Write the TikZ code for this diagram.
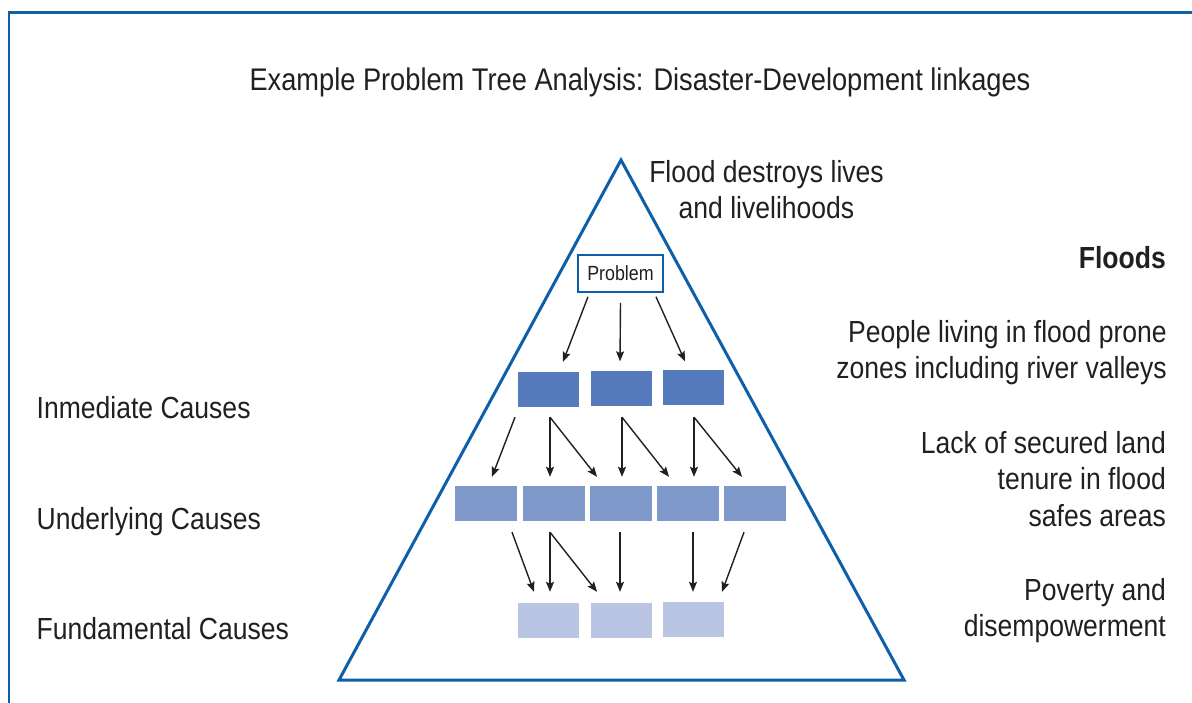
\documentclass[tikz,border=0pt]{standalone}
\usepackage{fontspec}
\setmainfont[FakeStretch=0.87]{Liberation Sans}
\usetikzlibrary{arrows.meta}
\definecolor{frameblue}{RGB}{14,95,170}
\definecolor{inkgrey}{RGB}{35,31,32}
\definecolor{immfill}{RGB}{85,123,189}
\definecolor{undfill}{RGB}{127,153,203}
\definecolor{fundfill}{RGB}{185,197,227}
\tikzset{
  lbl/.style={inner sep=0pt, text=inkgrey, font=\fontsize{30.5}{36.4}\selectfont},
  cell/.style={inner sep=0pt, minimum width=61pt, minimum height=35pt},
  immbox/.style={cell, fill=immfill},
  undbox/.style={cell, fill=undfill, minimum width=62pt},
  fundbox/.style={cell, fill=fundfill},
  arr/.style={draw=inkgrey, line width=1.4pt, -{Stealth[length=10pt,width=8pt,inset=1.8pt]}},
}
\begin{document}
\begin{tikzpicture}[x=1pt,y=-1pt]
\useasboundingbox (0,0) rectangle (1192,702);
% frame
\draw[frameblue, line width=2.6pt] (9,703) -- (9,12.5) -- (1193,12.5);
% triangle
\coordinate (apex) at (621,160);
\coordinate (bl) at (339,680);
\coordinate (br) at (904,680);
\draw[frameblue, line width=3pt, line join=miter] (apex) -- (br) -- (bl) -- cycle;
% texts
\node[lbl, anchor=base, font=\fontsize{31.3}{36.4}\selectfont] (title) at (640,90) {Example Problem Tree Analysis: Disaster-Development linkages};
\node[lbl, anchor=north, align=center] (effect) at (766.5,160) {Flood destroys lives\\and livelihoods};
\node[lbl, anchor=base east, font=\fontsize{30.5}{36.4}\selectfont\bfseries] (floods) at (1166,268) {Floods};
\node[lbl, anchor=north east, align=right] (people) at (1167,320) {People living in flood prone\\zones including river valleys};
\node[lbl, anchor=north east, align=right] (lack) at (1166,431) {Lack of secured land\\tenure in flood\\safes areas};
\node[lbl, anchor=north east, align=right] (poverty) at (1166,578) {Poverty and\\disempowerment};
\node[lbl, anchor=base west] (imm) at (36.5,418) {Inmediate Causes};
\node[lbl, anchor=base west] (und) at (36.5,529) {Underlying Causes};
\node[lbl, anchor=base west] (fund) at (36.5,639) {Fundamental Causes};
% problem box
\node[draw=frameblue, line width=1.5pt, fill=white, inner sep=0pt, minimum width=85pt, minimum height=37pt, text=inkgrey, font=\fontsize{20.5}{24}\selectfont] (prob) at (620.5,273.5) {Problem};
% boxes
\node[immbox] (i1) at (548,389) {};
\node[immbox] (i2) at (621.5,388.5) {};
\node[immbox] (i3) at (693,387.5) {};
\node[undbox] (u1) at (486,503.5) {};
\node[undbox] (u2) at (553.5,503.5) {};
\node[undbox] (u3) at (621,503.5) {};
\node[undbox] (u4) at (687.5,503.5) {};
\node[undbox] (u5) at (754.5,503.5) {};
\node[fundbox] (f1) at (548.5,620) {};
\node[fundbox] (f2) at (621.5,620) {};
\node[fundbox] (f3) at (693.5,619.5) {};
% arrows problem -> immediate
\draw[arr] ([xshift=-32.5pt,yshift=-4pt]prob.south) -- ([xshift=15pt,yshift=9.5pt]i1.north);
\draw[arr] ([xshift=0pt,yshift=-10pt]prob.south) -- ([xshift=-1.5pt,yshift=9.5pt]i2.north);
\draw[arr] ([xshift=35.5pt,yshift=-4pt]prob.south) -- ([xshift=-8pt,yshift=8.5pt]i3.north);
% arrows immediate -> underlying
\draw[arr] ([xshift=-33pt,yshift=-10.5pt]i1.south) -- ([xshift=6pt,yshift=9pt]u1.north);
\draw[arr] ([xshift=2pt,yshift=-10.5pt]i1.south) -- ([xshift=-3.5pt,yshift=9pt]u2.north);
\draw[arr] ([xshift=2pt,yshift=-10.5pt]i1.south) -- ([xshift=-24pt,yshift=9pt]u3.north);
\draw[arr] ([xshift=0.5pt,yshift=-11pt]i2.south) -- ([xshift=1pt,yshift=9pt]u3.north);
\draw[arr] ([xshift=0.5pt,yshift=-11pt]i2.south) -- ([xshift=-18.5pt,yshift=9pt]u4.north);
\draw[arr] ([xshift=1pt,yshift=-12pt]i3.south) -- ([xshift=6.5pt,yshift=9pt]u4.north);
\draw[arr] ([xshift=1pt,yshift=-12pt]i3.south) -- ([xshift=-12.5pt,yshift=9pt]u5.north);
% arrows underlying -> fundamental
\draw[arr] ([xshift=26pt,yshift=-11pt]u1.south) -- ([xshift=-14.5pt,yshift=10.5pt]f1.north);
\draw[arr] ([xshift=-3.5pt,yshift=-11pt]u2.south) -- ([xshift=1.5pt,yshift=10.5pt]f1.north);
\draw[arr] ([xshift=-3.5pt,yshift=-11pt]u2.south) -- ([xshift=-24.5pt,yshift=10.5pt]f2.north);
\draw[arr] ([xshift=-1pt,yshift=-11pt]u3.south) -- ([xshift=-1.5pt,yshift=10.5pt]f2.north);
\draw[arr] ([xshift=5.5pt,yshift=-11pt]u4.south) -- ([xshift=-0.5pt,yshift=10pt]f3.north);
\draw[arr] ([xshift=-10.5pt,yshift=-11pt]u5.south) -- ([xshift=28.5pt,yshift=10pt]f3.north);
\end{tikzpicture}
\end{document}
